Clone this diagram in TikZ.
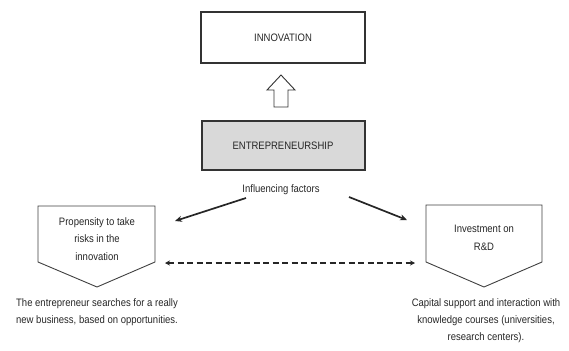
\documentclass[tikz,border=0pt]{standalone}
\usepackage{fontspec}
\setmainfont{Liberation Sans}[FakeStretch=0.88]
\usetikzlibrary{arrows.meta}
\begin{document}
\begin{tikzpicture}[x=1pt,y=-1pt,
  txt/.style={font=\fontsize{10.8}{17.5}\selectfont, align=center, inner sep=0pt, text=black!85},
  captxt/.style={font=\fontsize{10.8}{17}\selectfont, align=center, inner sep=0pt, text=black!85},
  boxline/.style={draw=black!80, line width=1.3pt},
  pent/.style={draw=black!75, line width=0.9pt, fill=white},
  conn/.style={draw=black!85, line width=1.7pt, -{Stealth[length=7pt,width=6pt]}},
  dconn/.style={draw=black!85, line width=2.4pt, dash pattern=on 6pt off 3.5pt, {Stealth[length=5pt,width=5pt]}-{Stealth[length=5pt,width=5pt]}}
]
\useasboundingbox (0,0) rectangle (569,350);
% INNOVATION box
\draw[boxline] (201,12) rectangle (365,63);
\node[txt] (innov) at (283,38) {INNOVATION};
% hollow arrow
\draw[black!80, line width=0.9pt, fill=white] (281,75) -- (295,90) -- (288,90) -- (288,107) -- (274,107) -- (274,90) -- (267,90) -- cycle;
% ENTREPRENEURSHIP box
\draw[boxline, fill=black!15] (202,121) rectangle (365,170);
\node[txt] (entre) at (283,146) {ENTREPRENEURSHIP};
\node[txt] (infl) at (281,190) {Influencing factors};
% left pentagon
\draw[pent] (38,206) -- (155,206) -- (155,262) -- (97,287) -- (38,262) -- cycle;
\node[txt] (prop) at (97,239) {Propensity to take\\risks in the\\innovation};
% right pentagon
\draw[pent] (426,205) -- (542,205) -- (542,262) -- (484,287) -- (426,262) -- cycle;
\node[txt] (inv) at (484,238) {Investment on\\R\&D};
% connectors
\coordinate (lend) at (175,221);
\coordinate (rend) at (407,220);
\coordinate (ls) at (246,198);
\coordinate (rs) at (349,197);
\draw[conn] (ls) -- (lend);
\draw[conn] (rs) -- (rend);
\coordinate (dl) at (165,263);
\coordinate (dr) at (415,263);
\draw[dconn] (dl) -- (dr);
% captions
\node[captxt, anchor=north] (lcap) at (97,298) {The entrepreneur searches for a really\\new business, based on opportunities.};
\node[captxt, anchor=north] (rcap) at (486,298) {Capital support and interaction with\\knowledge courses (universities,\\research centers).};
\end{tikzpicture}
\end{document}
